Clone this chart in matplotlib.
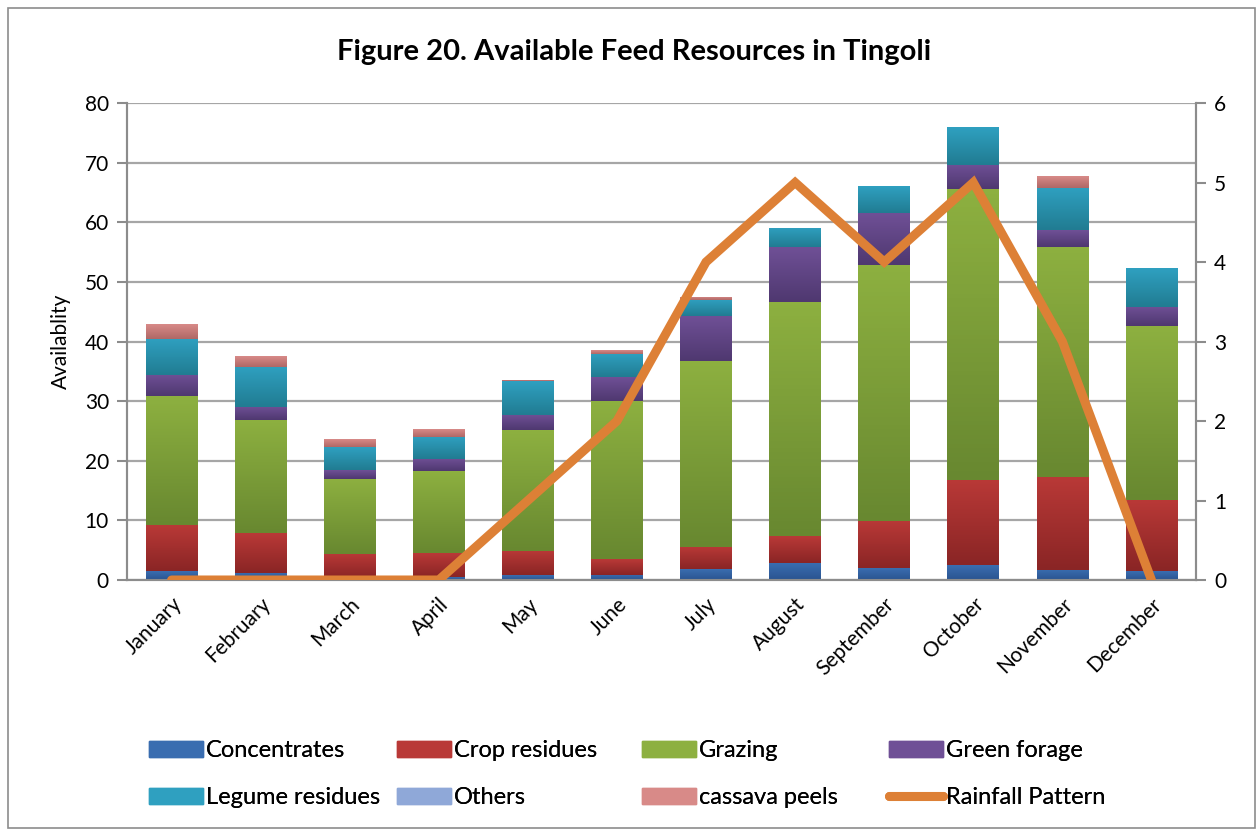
import matplotlib.pyplot as plt
import numpy as np
from matplotlib.patches import Rectangle
from matplotlib.colors import LinearSegmentedColormap

plt.rcParams['font.family'] = ['Lato', 'DejaVu Sans']

months = ['January', 'February', 'March', 'April', 'May', 'June', 'July',
          'August', 'September', 'October', 'November', 'December']

# segment heights
concentrates = [1.5, 1.2, 0.3, 0.5, 0.8, 0.9, 1.8, 2.8, 2.0, 2.5, 1.7, 1.5]
crop_residues = [7.7, 6.6, 4.1, 4.0, 4.1, 2.6, 3.7, 4.5, 7.9, 14.3, 15.6, 12.0]
grazing = [21.6, 19.0, 12.6, 13.7, 20.2, 26.5, 31.2, 39.4, 43.0, 48.7, 38.6, 29.1]
green_forage = [3.6, 2.2, 1.5, 2.1, 2.6, 4.0, 7.5, 9.1, 8.6, 4.1, 2.8, 3.2]
legume_residues = [6.1, 6.8, 3.8, 3.7, 5.7, 3.9, 2.7, 3.2, 4.5, 6.3, 7.1, 6.5]
others = [0, 0, 0, 0, 0, 0, 0, 0, 0, 0, 0, 0]
cassava_peels = [2.4, 1.8, 1.3, 1.3, 0.2, 0.6, 0.6, 0.0, 0.0, 0.0, 2.0, 0.0]
rainfall = [0, 0, 0, 0, 1, 2, 4, 5, 4, 5, 3, 0]

series = [
    ('Concentrates', concentrates, '#3A6DB0', '#2A5490'),
    ('Crop residues', crop_residues, '#B93937', '#8A2525'),
    ('Grazing', grazing, '#8DB040', '#688830'),
    ('Green forage', green_forage, '#6F5096', '#4F3870'),
    ('Legume residues', legume_residues, '#2FA0C0', '#217C92'),
    ('Others', others, '#8FA8D8', '#6A84B0'),
    ('cassava peels', cassava_peels, '#D88A88', '#B06866'),
]
line_color = '#DD8036'

fig = plt.figure(figsize=(12.6, 8.3), dpi=100)
ax = fig.add_axes([127 / 1260, 1 - 580 / 830, (1196 - 127) / 1260, (580 - 103) / 830])
ax2 = ax.twinx()

x = np.arange(len(months))
bottom = np.zeros(len(months))
handles = []
for name, vals, ctop, cbot in series:
    vals = np.array(vals, dtype=float)
    bars = ax.bar(x, vals, width=0.58, bottom=bottom, color=ctop, label=name,
                  zorder=3, linewidth=0)
    cmap = LinearSegmentedColormap.from_list(name, [cbot, ctop])
    grad = np.linspace(0, 1, 64).reshape(-1, 1)
    for b in bars:
        if b.get_height() <= 0:
            continue
        bx, by = b.get_x(), b.get_y()
        im = ax.imshow(grad, cmap=cmap, origin='lower', aspect='auto',
                       extent=[bx, bx + b.get_width(), by, by + b.get_height()],
                       zorder=3.1)
        im.set_clip_path(b)
    handles.append(Rectangle((0, 0), 1, 1, color=ctop))
    bottom += vals

ax.set_xlim(-0.5, 11.5)
ax.set_ylim(0, 80)
ax.set_yticks(range(0, 81, 10))
ax.grid(axis='y', color='#A6A6A6', linewidth=1.6, zorder=0)
ax.set_axisbelow(True)

ax2.plot(x, rainfall, color=line_color, linewidth=6.5, solid_capstyle='round',
         solid_joinstyle='miter', zorder=5)
ax2.set_ylim(0, 6)
ax2.set_yticks(range(0, 7))
ax.set_zorder(1)
ax2.set_zorder(2)
ax2.patch.set_visible(False)

for a in (ax, ax2):
    for s in a.spines.values():
        s.set_color('#8C8C8C')
        s.set_linewidth(1.5)
    a.spines['top'].set_visible(False)
    a.tick_params(axis='y', labelsize=15, length=7, width=1.5, color='#8C8C8C', pad=6)

ax.set_xticks(x)
ax.set_xticklabels(months, rotation=45, ha='right', rotation_mode='anchor', fontsize=15)
ax.tick_params(axis='x', length=0, pad=10)
ax.set_ylabel('Availablity', fontsize=15, labelpad=10)

fig.text(0.503, 1 - 52 / 830, 'Figure 20. Available Feed Resources in Tingoli',
         ha='center', va='center', fontsize=21, fontweight='bold')

# legend: 4 columns, placed one column at a time so the spacing matches
labels = [s[0] for s in series] + ['Rainfall Pattern']
leg_handles = handles + [plt.Line2D([0], [0], color=line_color, linewidth=6.5,
                                    solid_capstyle='round')]
col_x = [150, 398, 643, 890]
for c in range(4):
    idx = [c, c + 4]
    leg = fig.legend([leg_handles[i] for i in idx], [labels[i] for i in idx],
                     loc='upper left', frameon=False, fontsize=17,
                     bbox_to_anchor=((col_x[c] - 10) / 1260, 1 - 731 / 830),
                     handlelength=2.25, handleheight=0.7, handletextpad=0.15,
                     labelspacing=1.1, borderaxespad=0)
    fig.add_artist(leg)

fig.patches.append(Rectangle((0.006, 0.002), 0.99, 0.988, transform=fig.transFigure,
                             fill=False, edgecolor='#8C8C8C', linewidth=1.2))

fig.savefig('out.png', dpi=100)
